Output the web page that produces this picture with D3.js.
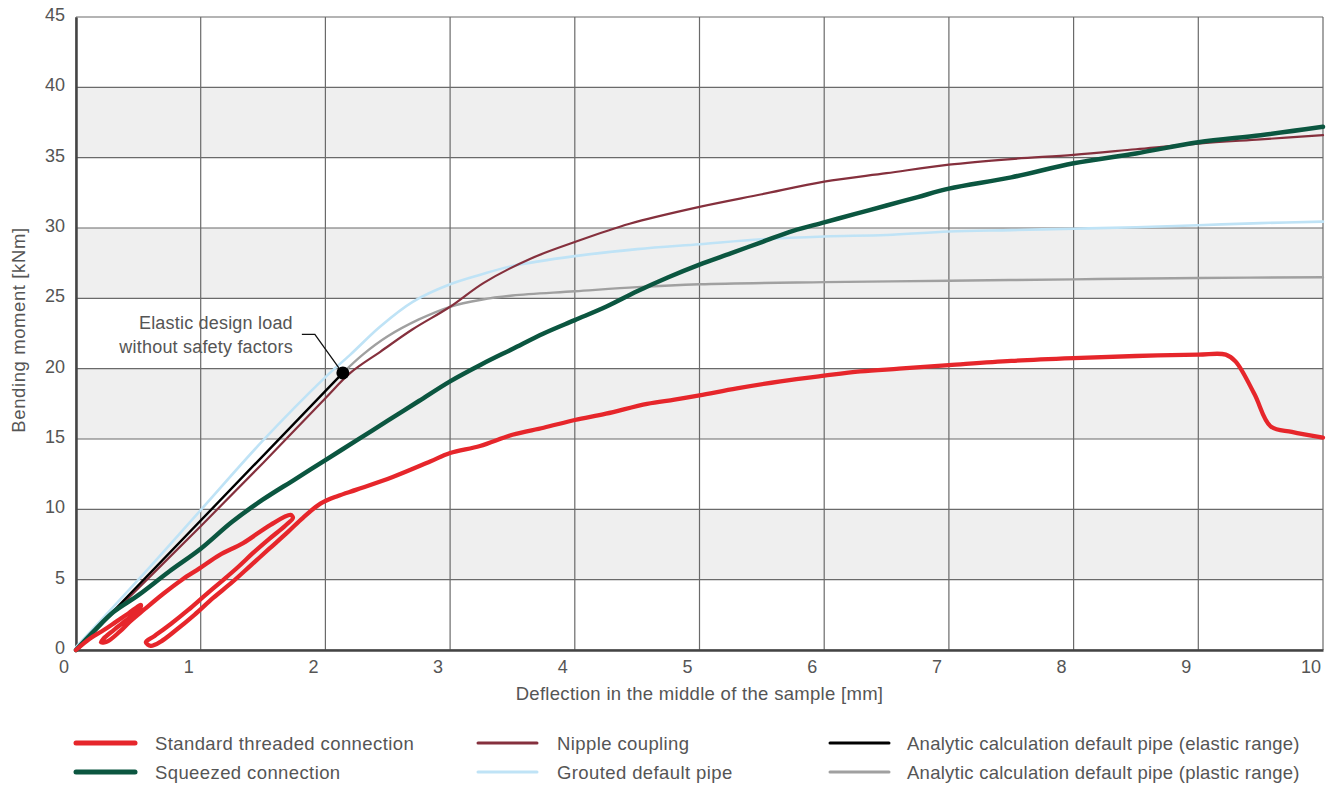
<!DOCTYPE html>
<html>
<head>
<meta charset="utf-8">
<script src="https://cdn.jsdelivr.net/npm/d3@7"></script>
<style>
  html, body { margin: 0; padding: 0; background: #fff; }
  svg { display: block; }
  text { font-family: "Liberation Sans", Arial, sans-serif; fill: #555; }
</style>
</head>
<body>
<svg id="chart" width="1341" height="785"></svg>
<script>
// ---------- data ----------
const xTickValues = [0, 1, 2, 3, 4, 5, 6, 7, 8, 9, 10];
const yTickValues = [0, 5, 10, 15, 20, 25, 30, 35, 40, 45];
const shadedBands = [[5, 10], [15, 20], [25, 30], [35, 40]];

const standardThreaded = [
  [0, 0], [0.11, 0.8], [0.22, 1.4], [0.32, 2.0], [0.42, 2.6], [0.52, 3.2], [0.5, 2.8],
  [0.4, 2.1], [0.3, 1.4], [0.22, 0.8], [0.2, 0.55], [0.25, 0.6], [0.35, 1.3], [0.43, 2.0],
  [0.55, 2.9], [0.7, 4.0], [0.85, 5.0], [0.99, 5.8], [1.15, 6.75], [1.34, 7.6],
  [1.56, 8.9], [1.72, 9.6], [1.74, 9.4], [1.68, 8.85], [1.55, 7.9], [1.42, 6.9],
  [1.3, 5.9], [1.17, 4.9], [1.03, 3.85], [0.9, 2.85], [0.76, 1.85], [0.63, 1.0],
  [0.56, 0.55], [0.6, 0.3], [0.68, 0.6], [0.8, 1.4], [0.95, 2.5], [1.1, 3.7],
  [1.25, 4.8], [1.4, 6.0], [1.55, 7.2], [1.7, 8.4], [1.82, 9.4], [1.96, 10.4],
  [2.1, 10.95], [2.25, 11.4], [2.54, 12.3], [2.84, 13.4], [3.0, 14.0], [3.24, 14.5],
  [3.5, 15.3], [3.75, 15.8], [4.0, 16.35], [4.25, 16.8], [4.58, 17.5], [4.8, 17.8],
  [5.0, 18.1], [5.3, 18.6], [5.65, 19.1], [6.0, 19.5], [6.29, 19.8], [6.6, 20.0],
  [7.0, 20.25], [7.5, 20.55], [8.0, 20.75], [8.5, 20.9], [9.0, 21.0], [9.22, 21.0],
  [9.3, 20.5], [9.45, 18.2], [9.58, 15.9], [9.75, 15.5], [10, 15.1]
];

const squeezed = [
  [0, 0], [0.15, 1.4], [0.3, 2.7], [0.5, 3.9], [0.75, 5.6], [1.0, 7.2], [1.25, 9.1],
  [1.5, 10.7], [1.75, 12.1], [2.0, 13.5], [2.25, 14.9], [2.5, 16.3], [2.75, 17.7],
  [3.0, 19.1], [3.25, 20.3], [3.5, 21.4], [3.75, 22.5], [4.0, 23.45], [4.25, 24.4],
  [4.5, 25.5], [4.75, 26.5], [5.0, 27.4], [5.25, 28.2], [5.5, 29.0], [5.75, 29.8],
  [6.0, 30.4], [6.25, 31.0], [6.5, 31.6], [6.75, 32.2], [7.0, 32.8], [7.5, 33.6],
  [8.0, 34.6], [8.5, 35.3], [9.0, 36.1], [9.5, 36.6], [10, 37.2]
];

const nippleCoupling = [
  [0, 0], [0.5, 4.4], [1.0, 8.8], [1.5, 13.3], [2.0, 17.9], [2.2, 19.7], [2.44, 21.2],
  [2.7, 22.8], [3.0, 24.4], [3.27, 26.1], [3.64, 27.8], [4.0, 29.0], [4.44, 30.3],
  [5.0, 31.5], [5.5, 32.4], [6.0, 33.3], [6.5, 33.9], [7.0, 34.5], [7.5, 34.9],
  [8.0, 35.2], [8.5, 35.6], [9.0, 36.0], [9.5, 36.3], [10, 36.6]
];

const groutedPipe = [
  [0, 0.2], [0.5, 5.0], [1.0, 9.95], [1.5, 14.9], [2.0, 19.4], [2.2, 21.0], [2.44, 23.0],
  [2.7, 24.75], [3.0, 26.0], [3.25, 26.7], [3.5, 27.3], [4.0, 28.0], [4.5, 28.5],
  [5.0, 28.85], [5.5, 29.2], [6.0, 29.4], [6.5, 29.5], [7.0, 29.75], [7.5, 29.85],
  [8.0, 29.95], [8.5, 30.05], [9.0, 30.2], [9.5, 30.35], [10, 30.45]
];

const analyticElastic = [[0, 0], [2.14, 19.7]];

const analyticPlastic = [
  [2.14, 19.7], [2.3, 21.0], [2.5, 22.3], [2.75, 23.5], [3.0, 24.4], [3.25, 24.9],
  [3.5, 25.2], [4.0, 25.5], [4.5, 25.8], [5.0, 26.0], [6.0, 26.15], [7.0, 26.25],
  [8.0, 26.35], [9.0, 26.45], [10, 26.5]
];

const designPoint = [2.14, 19.7];
const annotationLines = ["Elastic design load", "without safety factors"];

const seriesNames = [
  "Standard threaded connection", "Squeezed connection",
  "Nipple coupling", "Grouted default pipe",
  "Analytic calculation default pipe (elastic range)",
  "Analytic calculation default pipe (plastic range)"
];

// ---------- layout ----------
const W = 1341, H = 785;
const margin = { left: 76, right: 18, top: 17, bottom: 135 };
const svg = d3.select("#chart");

const x = d3.scaleLinear().domain([0, 10]).range([margin.left, W - margin.right]);
const y = d3.scaleLinear().domain([0, 45]).range([H - margin.bottom, margin.top]);

const colors = {
  standard: "#e6262b",
  squeezed: "#0b5640",
  nipple: "#85303d",
  grouted: "#bfe3f6",
  elastic: "#000000",
  plastic: "#a0a0a0"
};
const textColor = "#555";

// bands
svg.append("g").selectAll("rect").data(shadedBands).join("rect")
  .attr("x", x(0)).attr("width", x(10) - x(0))
  .attr("y", d => y(d[1])).attr("height", d => y(d[0]) - y(d[1]))
  .attr("fill", "#efefef");

// grid
const grid = svg.append("g").attr("stroke", "#6a6a6a").attr("stroke-width", 1.2).attr("fill", "none");
grid.selectAll("line.v").data(xTickValues).join("line").attr("class", "v")
  .attr("x1", d => x(d)).attr("x2", d => x(d)).attr("y1", y(0)).attr("y2", y(45));
grid.selectAll("line.h").data(yTickValues).join("line").attr("class", "h")
  .attr("y1", d => y(d)).attr("y2", d => y(d)).attr("x1", x(0)).attr("x2", x(10));

// axes
const xAxis = d3.axisBottom(x).tickValues(xTickValues).tickSize(0).tickPadding(10).tickFormat(d3.format("d"));
const gx = svg.append("g").attr("transform", `translate(0,${y(0)})`).call(xAxis);
gx.select(".domain").attr("stroke", "#444").attr("stroke-width", 2.5);
gx.selectAll("text").attr("font-size", 18).attr("dx", -12.5).attr("fill", textColor)
  .style("font-family", "Liberation Sans, Arial, sans-serif");

const yAxis = d3.axisLeft(y).tickValues(yTickValues).tickSize(0).tickPadding(11).tickFormat(d3.format("d"));
const gy = svg.append("g").attr("transform", `translate(${x(0)},0)`).call(yAxis);
gy.select(".domain").attr("stroke", "#444").attr("stroke-width", 2.5);
gy.selectAll("text").attr("font-size", 18).attr("dy", "0.2em").attr("fill", textColor)
  .style("font-family", "Liberation Sans, Arial, sans-serif");

// axis titles
svg.append("text")
  .attr("x", (x(0) + x(10)) / 2).attr("y", 700)
  .attr("text-anchor", "middle").attr("font-size", 18.5).attr("letter-spacing", 0.3)
  .attr("fill", textColor)
  .text("Deflection in the middle of the sample [mm]");
svg.append("text")
  .attr("transform", `translate(25,${330}) rotate(-90)`)
  .attr("text-anchor", "middle").attr("font-size", 18.5).attr("letter-spacing", 0.6)
  .attr("fill", textColor)
  .text("Bending moment [kNm]");

// lines
const line = d3.line().x(d => x(d[0])).y(d => y(d[1])).curve(d3.curveCatmullRom.alpha(0.5));
const lineSpecs = [
  { data: groutedPipe, color: colors.grouted, w: 2.6 },
  { data: analyticPlastic, color: colors.plastic, w: 2.4 },
  { data: nippleCoupling, color: colors.nipple, w: 2.2 },
  { data: analyticElastic, color: colors.elastic, w: 2.4 },
  { data: squeezed, color: colors.squeezed, w: 4.5 },
  { data: standardThreaded, color: colors.standard, w: 4.3 }
];
svg.append("g").selectAll("path").data(lineSpecs).join("path")
  .attr("d", d => line(d.data))
  .attr("fill", "none")
  .attr("stroke", d => d.color)
  .attr("stroke-width", d => d.w)
  .attr("stroke-linejoin", "round")
  .attr("stroke-linecap", "round");

// annotation
const px = x(designPoint[0]), py = y(designPoint[1]);
svg.append("path")
  .attr("d", `M${px - 41},${py - 38.5} L${px - 28},${py - 38.5} L${px - 4},${py - 5}`)
  .attr("fill", "none").attr("stroke", "#111").attr("stroke-width", 1.3);
svg.append("circle").attr("cx", px).attr("cy", py).attr("r", 6.5).attr("fill", "#000");
svg.append("g").selectAll("text").data(annotationLines).join("text")
  .attr("x", px - 50).attr("y", (d, i) => py - 44 + i * 24)
  .attr("text-anchor", "end").attr("font-size", 18).attr("letter-spacing", 0.2)
  .attr("fill", textColor)
  .text(d => d);

// legend
const legendItems = [
  { name: seriesNames[0], color: colors.standard, w: 5, col: 0, row: 0 },
  { name: seriesNames[1], color: colors.squeezed, w: 5, col: 0, row: 1 },
  { name: seriesNames[2], color: colors.nipple, w: 3, col: 1, row: 0 },
  { name: seriesNames[3], color: colors.grouted, w: 3, col: 1, row: 1 },
  { name: seriesNames[4], color: colors.elastic, w: 3, col: 2, row: 0 },
  { name: seriesNames[5], color: colors.plastic, w: 3, col: 2, row: 1 }
];
const colX = [76, 478, 830];
const rowY = [743, 772];
const lg = svg.append("g").selectAll("g").data(legendItems).join("g")
  .attr("transform", d => `translate(${colX[d.col]},${rowY[d.row]})`);
lg.append("line").attr("x1", 0).attr("x2", 59).attr("y1", 0).attr("y2", 0)
  .attr("stroke", d => d.color).attr("stroke-width", d => d.w).attr("stroke-linecap", "round");
lg.append("text").attr("x", d => d.col === 2 ? 77 : 79).attr("y", 6.5)
  .attr("font-size", 18.5).attr("letter-spacing", d => d.col === 2 ? 0.25 : 0.4).attr("fill", textColor)
  .text(d => d.name);
</script>
</body>
</html>
